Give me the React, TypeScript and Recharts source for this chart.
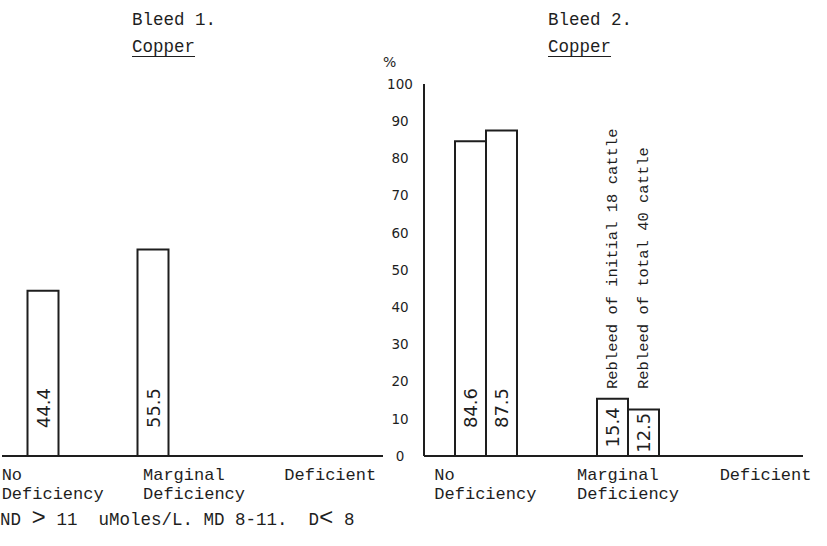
import React from 'react';
import { BarChart, Bar, XAxis, YAxis, LabelList } from 'recharts';

// categories (line break = how the typed label wraps)
const categories = ['No\nDeficiency', 'Marginal\nDeficiency', 'Deficient'];

// Bleed 1, copper, % of cattle
const bleed1Copper = [44.4, 55.5, null];

// Bleed 2, copper, % of cattle
const bleed2Initial = [84.6, 15.4, null];
const bleed2Total = [87.5, 12.5, null];
const bleed2Names = ['Rebleed of initial 18 cattle', 'Rebleed of total 40 cattle'];
const noteCategory = 'Marginal\nDeficiency';

const pctTicks = [0, 10, 20, 30, 40, 50, 60, 70, 80, 90, 100];

const bleed1Data = categories.map((cat, i) => ({ cat, copper: bleed1Copper[i] }));
const bleed2Data = categories.map((cat, i) => ({
  cat,
  initial: bleed2Initial[i],
  total: bleed2Total[i],
}));

const MONO = '"Liberation Mono", "DejaVu Sans Mono", monospace';
const SANS = '"DejaVu Sans", sans-serif';
const INK = '#1e1e1e';

const CategoryTick = (props: any) => {
  const { x, y, payload } = props;
  const lines = String(payload.value).split('\n');
  return (
    <g>
      {lines.map((l, i) => (
        <text key={i} x={x} y={y + 16 + i * 19} fill={INK} fontFamily={MONO} fontSize={17} textAnchor="start">
          {l}
        </text>
      ))}
    </g>
  );
};

const PercentTick = (props: any) => {
  const { x, y, payload } = props;
  return (
    <text x={x - 16} y={y} dy="0.36em" fill={INK} fontFamily={SANS} fontSize={13.5} textAnchor="middle">
      {payload.value}
    </text>
  );
};

// value written sideways near the foot of each bar
const valueLabel = (p: any) => {
  const { x, y, width, height, value } = p;
  if (value == null || !height) return null;
  const cx = x + width / 2;
  const cy = y + height - Math.min(height / 2, 48);
  return (
    <text
      x={cx}
      y={cy}
      transform={`rotate(-90 ${cx} ${cy})`}
      textAnchor="middle"
      dominantBaseline="central"
      fill={INK}
      fontFamily={SANS}
      fontSize={18}
    >
      {Number(value).toFixed(1)}
    </text>
  );
};

// series note typed upwards above the marginal bars
const nameLabel = (name: string) => (p: any) => {
  const { x, y, width, height, index } = p;
  if (categories[index] !== noteCategory) return null;
  const cx = x + width / 2;
  const cy = y + height - 67;
  return (
    <text
      x={cx}
      y={cy}
      transform={`rotate(-90 ${cx} ${cy})`}
      textAnchor="start"
      dominantBaseline="central"
      fill={INK}
      fontFamily={MONO}
      fontSize={15.5}
    >
      {name}
    </text>
  );
};

const axisStyle = { stroke: INK, strokeWidth: 2 };

const textStyle: React.CSSProperties = {
  position: 'absolute',
  fontFamily: MONO,
  fontSize: 17.5,
  lineHeight: '18px',
  color: INK,
  whiteSpace: 'pre',
};

const underline: React.CSSProperties = { textDecoration: 'underline', textUnderlineOffset: '4px' };

export default function App() {
  return (
    <div style={{ position: 'absolute', left: 0, top: 0, width: 827, height: 546, background: '#fff', overflow: 'hidden' }}>
      <div style={{ ...textStyle, left: 132, top: 11 }}>Bleed 1.</div>
      <div style={{ ...textStyle, ...underline, left: 132, top: 38 }}>Copper</div>
      <div style={{ ...textStyle, left: 548, top: 11 }}>Bleed 2.</div>
      <div style={{ ...textStyle, ...underline, left: 548, top: 38 }}>Copper</div>
      <div style={{ ...textStyle, left: 383, top: 53, fontFamily: SANS, fontSize: 14 }}>%</div>

      <div style={{ position: 'absolute', left: 0, top: 0 }}>
        <BarChart width={400} height={546} data={bleed1Data} margin={{ top: 84, right: 17, bottom: 30, left: 2 }}>
          <XAxis xAxisId="bars" dataKey="cat" hide height={0} padding={{ left: -14.5, right: 65.5 }} />
          <XAxis
            xAxisId="lbl"
            dataKey="cat"
            height={60}
            interval={0}
            tickLine={false}
            axisLine={axisStyle}
            tick={<CategoryTick />}
            padding={{ left: -71, right: 28 }}
          />
          <YAxis domain={[0, 100]} width={0} tick={false} tickLine={false} axisLine={axisStyle} />
          <Bar xAxisId="bars" dataKey="copper" barSize={31} fill="#fff" stroke={INK} strokeWidth={2} isAnimationActive={false}>
            <LabelList dataKey="copper" content={valueLabel} />
          </Bar>
        </BarChart>
      </div>

      <div style={{ position: 'absolute', left: 380, top: 0 }}>
        <BarChart width={447} height={546} data={bleed2Data} barGap={0} margin={{ top: 84, right: 24, bottom: 30, left: 4 }}>
          <XAxis xAxisId="bars" dataKey="cat" hide height={0} padding={{ left: -9, right: -38 }} />
          <XAxis
            xAxisId="lbl"
            dataKey="cat"
            height={60}
            interval={0}
            tickLine={false}
            axisLine={axisStyle}
            tick={<CategoryTick />}
            padding={{ left: -61, right: 12 }}
          />
          <YAxis domain={[0, 100]} ticks={pctTicks} width={40} tickLine={false} axisLine={axisStyle} tick={<PercentTick />} />
          <Bar xAxisId="bars" dataKey="initial" name={bleed2Names[0]} barSize={31} fill="#fff" stroke={INK} strokeWidth={2} isAnimationActive={false}>
            <LabelList dataKey="initial" content={valueLabel} />
            <LabelList dataKey="initial" content={nameLabel(bleed2Names[0])} />
          </Bar>
          <Bar xAxisId="bars" dataKey="total" name={bleed2Names[1]} barSize={31} fill="#fff" stroke={INK} strokeWidth={2} isAnimationActive={false}>
            <LabelList dataKey="total" content={valueLabel} />
            <LabelList dataKey="total" content={nameLabel(bleed2Names[1])} />
          </Bar>
        </BarChart>
      </div>

      <div style={{ ...textStyle, left: 0, top: 510 }}>
        ND <span style={{ fontSize: 24, lineHeight: '18px' }}>&gt;</span> 11  uMoles/L. MD 8-11.  D<span style={{ fontSize: 24, lineHeight: '18px' }}>&lt;</span> 8
      </div>
    </div>
  );
}
